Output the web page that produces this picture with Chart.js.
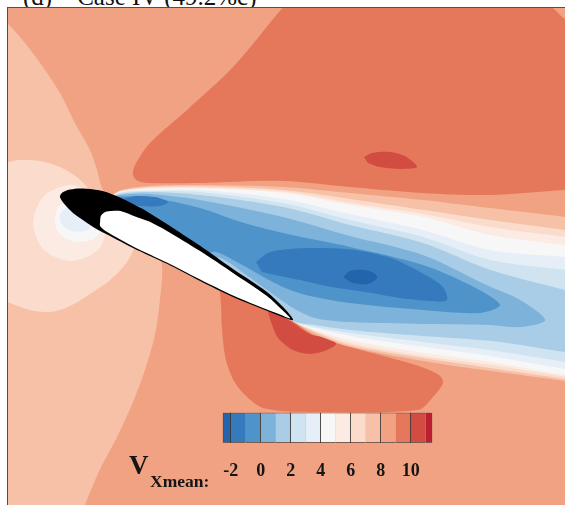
<!DOCTYPE html>
<html>
<head>
<meta charset="utf-8">
<script src="https://cdn.jsdelivr.net/npm/chart.js@4.4.1/dist/chart.umd.min.js"></script>
<style>
  html, body { margin: 0; padding: 0; width: 565px; height: 505px; overflow: hidden; background: #ffffff; }
  body { position: relative; font-family: "Liberation Serif", "Times New Roman", serif; color: #111; }
  #frame { position: absolute; left: 7px; top: 7px; width: 558px; height: 498px; box-sizing: border-box;
           border-left: 1px solid #6e4636; border-top: 1px solid #6e4636; }
  #field { position: absolute; left: 8px; top: 8px; }
  #bar { position: absolute; left: 200px; top: 403px; }
  #title { position: absolute; left: 23px; top: -16px; font-size: 25px; line-height: 25px; white-space: pre; color: #111; }
  #vmain { position: absolute; left: 129px; top: 452px; font-size: 27px; line-height: 27px; font-weight: bold; color: #151515; }
  #vsub { position: absolute; left: 150px; top: 473px; font-size: 17.5px; line-height: 17px; font-weight: bold; color: #151515; }
</style>
</head>
<body>
<div id="title">(d)    Case IV (49.2%c)</div>
<div id="frame"></div>
<canvas id="field" width="557" height="497"></canvas>
<canvas id="bar" width="260" height="90"></canvas>
<div id="vmain">V</div>
<div id="vsub">Xmean:</div>
<script>
// Contour levels of the mean streamwise velocity and their fill colours
const levelBounds = [-2.53, -2, -1, 0, 1, 2, 3, 4, 5, 6, 7, 8, 9, 10, 11, 11.44];
const levelColors = ['#2265ad', '#347abd', '#4f93cb', '#7db3da', '#a9cde6', '#cfe3f1', '#e6eff7',
                     '#f8f7f8', '#fcebe2', '#fbdccc', '#f7c1a8', '#f1a283', '#e5785a', '#d24c42', '#bd1f32'];
const colorbarTicks = [-2, 0, 2, 4, 6, 8, 10];

// Field extent in percent chord, leading edge at the origin
const xRange = [-20.7, 192.7];
const yRange = [-118.8, 71.65];

// Iso-regions [x/c %, y/c %]
const fieldBase = [[-25, 75], [197, 75], [197, -122], [-25, -122]];
const suctionPeak = [[87.4, 74.5], [84.7, 72.0], [65.5, 49.0], [47.9, 32.6], [33.7, 19.9], [28.0, 11.5], [27.2, 7.7],
  [29.1, 5.4], [33.7, 4.6], [52.9, 4.6], [84.7, 5.4], [110.3, 3.1], [138.3, 0.8], [164.0, 0], [192.7, 1.9],
  [198.5, 2.0], [198.5, 61.3], [190.8, 69.0], [185.8, 73.9]];
const upstreamLobe = [[-25, 69.0], [-21.1, 65.9], [-16.1, 60.5], [-8.4, 50.6], [-0.8, 39.1], [5.7, 26.1], [10.7, 17.2],
  [13.4, 9.6], [15.3, 2.7], [18.4, -1.9], [26.1, -13.4], [35.6, -21.8], [38.3, -26.8], [37.5, -40.2], [35.6, -53.6],
  [31.8, -67.0], [27.2, -79.3], [21.1, -92.7], [14.6, -105.0], [8.8, -118.8], [6.9, -124.5], [-25, -124.5]];
const stagnationOuter = [[-25, 12.6], [-21.1, 12.6], [-16.1, 13.4], [-8.4, 13.0], [-0.8, 10.7], [6.1, 6.5], [11.5, 1.1],
  [18.4, -5.7], [24.1, -13.4], [28.0, -18.0], [24.9, -25.7], [18.4, -32.6], [11.9, -37.2], [3.1, -42.5], [-4.6, -44.8],
  [-12.3, -44.1], [-21.1, -41.0], [-25, -40.2]];
const stagnationMid = [[18.0, -10.7], [13.8, -21.1], [3.4, -25.3], [-6.9, -21.1], [-11.1, -10.7], [-6.9, -0.4], [3.4, 3.8], [13.8, -0.4]];
const stagnationInner = [[12.6, -5.7], [15.7, -12.6], [11.5, -17.2], [3.8, -17.6], [-1.5, -14.2], [-2.7, -8.8], [-0.8, -3.8], [5.0, -1.5]];
const stagnationCore = [[6.9, -5.0], [11.5, -9.6], [10.0, -13.4], [3.8, -13.8], [0, -11.5], [-0.8, -7.7], [1.5, -5.0]];
const upperJet = [[115.7, 14.6], [118.8, 16.1], [125.7, 16.5], [131.4, 14.9], [136.0, 10.7], [129.5, 10.0], [121.8, 10.7], [117.2, 12.3]];
const pressureSide = [[59.8, -33.3], [88.1, -48.3], [96.9, -54.0], [116.1, -59.8], [135.2, -65.1], [144.4, -69.0], [146.0, -72.0],
  [141.8, -77.8], [136.4, -82.4], [91.2, -83.1], [77.0, -81.6], [71.3, -77.8], [66.3, -72.0], [62.8, -63.2], [61.3, -51.7],
  [60.9, -42.1], [60.5, -37.2]];
const trailingJet = [[87.4, -48.3], [95.0, -53.3], [102.7, -55.2], [105.0, -57.1], [101.5, -59.4], [95.0, -60.9], [88.5, -59.4],
  [82.8, -54.8], [80.5, -49.8], [78.2, -42.5]];

const wake8 = [[17.6, -1.5], [22.2, 1.7], [33.7, 3.4], [52.9, 3.8], [84.7, 3.1], [110.3, 0.8], [138.3, -1.9], [164.0, -5.0], [192.7, -8.4],
  [198.5, -9.2], [198.5, -72.0], [192.7, -71.3], [164.0, -67.4], [138.3, -63.6], [110.3, -58.2], [96.9, -53.3], [88.5, -48.3],
  [79.7, -41.0], [52.9, -25.7], [29.9, -12.6], [17.6, -3.8]];
const wake7 = [[17.6, -1.5], [22.2, 1.5], [33.7, 3.1], [52.9, 3.3], [84.7, 1.9], [110.3, -1.5], [138.3, -5.7], [164.0, -9.6], [192.7, -13.4],
  [198.5, -14.2], [198.5, -71.3], [192.7, -70.5], [164.0, -66.3], [138.3, -62.5], [110.3, -57.5], [96.9, -52.5], [88.5, -48.3],
  [79.7, -41.0], [52.9, -25.7], [29.9, -12.6], [17.6, -3.8]];
const wake6 = [[17.6, -1.5], [22.2, 1.3], [33.7, 2.7], [52.9, 2.9], [84.7, 1.3], [110.3, -3.1], [138.3, -7.3], [164.0, -12.3], [192.7, -16.1],
  [198.5, -16.9], [198.5, -70.5], [192.7, -69.7], [164.0, -65.1], [138.3, -61.7], [110.3, -56.7], [96.9, -52.1], [88.5, -48.3],
  [79.7, -41.0], [52.9, -25.7], [29.9, -12.6], [17.6, -3.8]];
const wake5 = [[17.6, -1.5], [22.2, 1.15], [33.7, 2.3], [52.9, 2.5], [84.7, 0.8], [110.3, -3.8], [138.3, -8.4], [164.0, -15.3], [192.7, -19.2],
  [198.5, -19.9], [198.5, -69.7], [192.7, -69.0], [164.0, -64.0], [138.3, -60.5], [110.3, -55.6], [96.9, -51.7], [88.5, -48.3],
  [79.7, -41.0], [52.9, -25.7], [29.9, -12.6], [17.6, -3.8]];
const wake4 = [[17.6, -1.5], [22.2, 1.0], [33.7, 1.9], [52.9, 1.9], [84.7, -1.5], [110.3, -7.3], [138.3, -13.4], [164.0, -21.1], [192.7, -23.8],
  [198.5, -24.5], [198.5, -67.4], [192.7, -66.7], [164.0, -61.7], [138.3, -58.2], [110.3, -54.0], [96.9, -51.0], [88.5, -48.3],
  [79.7, -41.0], [52.9, -25.7], [29.9, -12.6], [17.6, -3.8]];
const wake3 = [[17.6, -1.5], [22.2, 0.8], [33.7, 1.5], [52.9, 1.15], [84.7, -3.1], [110.3, -9.6], [138.3, -16.1], [164.0, -24.9], [192.7, -28.7],
  [198.5, -29.5], [198.5, -64.8], [192.7, -64.0], [164.0, -59.4], [138.3, -56.3], [110.3, -52.9], [96.9, -50.6], [88.5, -48.3],
  [79.7, -41.0], [52.9, -25.7], [29.9, -12.6], [17.6, -3.8]];
const wake2 = [[17.6, -1.5], [22.2, 0.4], [33.7, 1.15], [52.9, 0], [84.7, -4.6], [110.3, -11.5], [138.3, -18.4], [164.0, -28.7], [192.7, -36.4],
  [198.5, -37.5], [198.5, -60.9], [192.7, -60.2], [164.0, -55.9], [138.3, -54.0], [110.3, -51.7], [96.9, -49.8], [88.5, -48.3],
  [79.7, -41.0], [52.9, -25.7], [29.9, -12.6], [17.6, -3.8]];
const wake1 = [[17.6, -1.5], [22.2, 0], [33.7, 0.4], [52.9, -1.9], [84.7, -8.4], [110.3, -15.7], [138.3, -23.0], [164.0, -35.2], [175.5, -40.2],
  [185.1, -47.9], [175.5, -50.6], [164.0, -49.8], [138.3, -49.4], [110.3, -48.7], [96.9, -47.1], [88.5, -43.3], [79.7, -37.2],
  [70.1, -30.3], [60.5, -24.1], [52.9, -24.5], [29.9, -12.6], [17.6, -3.8]];
const wake0 = [[17.6, -1.5], [22.2, -0.6], [33.7, -1.0], [52.9, -5.0], [68.2, -10.3], [84.7, -14.6], [110.3, -19.9], [138.3, -26.8],
  [156.3, -34.5], [167.8, -42.1], [160.2, -45.2], [138.3, -44.1], [110.3, -41.4], [96.9, -39.1], [87.4, -36.4], [77.8, -31.8],
  [68.2, -26.4], [58.6, -21.8], [52.9, -23.4], [29.9, -12.6], [17.6, -3.8]];
const leadingVortex = [[23.4, -1.5], [28.0, -0.4], [35.6, -0.8], [40.6, -2.7], [37.5, -4.2], [29.9, -4.2], [24.1, -3.4]];
const recirculation = [[74.3, -25.7], [78.9, -22.2], [87.4, -20.7], [98.9, -20.3], [112.3, -21.1], [125.7, -24.1], [137.2, -29.5],
  [145.6, -34.9], [147.5, -40.2], [141.0, -40.6], [129.5, -39.5], [118.0, -37.5], [102.7, -35.2], [91.2, -32.6], [83.5, -31.0], [76.6, -29.5]];
const recirculationCore = [[107.7, -31.4], [110.3, -29.1], [114.9, -28.7], [119.5, -29.9], [120.7, -31.8], [117.2, -34.1], [111.1, -33.7]];

// Airfoil section and its inner highlight
const airfoilOutline = [[40.2, -11.1], [52.9, -19.5], [65.5, -28.4], [78.5, -37.2], [85.4, -43.7], [88.5, -47.9], [83.5, -46.4],
  [78.5, -44.4], [65.5, -39.1], [52.9, -33.0], [40.2, -26.4], [27.2, -20.3], [18.4, -15.7], [14.6, -13.8], [9.6, -10.7],
  [4.2, -6.9], [0.8, -3.4], [-0.8, -0.8], [-0.4, 0.4], [0.8, 1.3], [3.1, 2.1], [6.9, 2.5], [10.7, 2.3], [14.6, 1.7],
  [18.4, 0.6], [23.4, -1.5], [31.0, -5.4]];
const airfoilInner = [[33.7, -10.3], [40.2, -13.8], [52.9, -21.5], [65.5, -29.9], [78.5, -38.7], [84.7, -44.4], [87.4, -47.3],
  [83.5, -45.8], [78.5, -43.9], [65.5, -38.5], [52.9, -32.4], [40.2, -25.9], [27.2, -19.7], [19.2, -15.3], [16.1, -13.4],
  [14.6, -11.9], [14.6, -10.3], [14.9, -8.0], [16.5, -6.5], [19.2, -6.1], [23.0, -6.3], [28.0, -8.2]];

// Drawing stack, bottom first: region and contour band index
const layers = [
  { region: fieldBase, band: 11, tension: 0 },
  { region: suctionPeak, band: 12 },
  { region: upstreamLobe, band: 10 },
  { region: stagnationOuter, band: 9 },
  { region: stagnationMid, band: 8 },
  { region: stagnationInner, band: 7 },
  { region: stagnationCore, band: 6 },
  { region: upperJet, band: 13 },
  { region: pressureSide, band: 12 },
  { region: trailingJet, band: 13 },
  { region: wake8, band: 10 },
  { region: wake7, band: 9 },
  { region: wake6, band: 8 },
  { region: wake5, band: 7 },
  { region: wake4, band: 6 },
  { region: wake3, band: 5 },
  { region: wake2, band: 4 },
  { region: wake1, band: 3 },
  { region: wake0, band: 2 },
  { region: leadingVortex, band: 1 },
  { region: recirculation, band: 1 },
  { region: recirculationCore, band: 0 },
  { region: airfoilOutline, color: '#000000' },
  { region: airfoilInner, color: '#ffffff' }
];

const toPoints = arr => arr.map(p => ({ x: p[0], y: p[1] }));

new Chart(document.getElementById('field'), {
  type: 'scatter',
  data: {
    datasets: layers.map((l, i) => ({
      data: toPoints(l.region),
      showLine: true,
      fill: 'shape',
      backgroundColor: l.color || levelColors[l.band],
      borderWidth: 0,
      pointRadius: 0,
      tension: l.tension === undefined ? 0.3 : l.tension,
      order: layers.length - i
    }))
  },
  options: {
    responsive: false,
    animation: false,
    events: [],
    layout: { padding: 0 },
    elements: { line: { capBezierPoints: false }, point: { radius: 0 } },
    plugins: { legend: { display: false }, tooltip: { enabled: false } },
    scales: {
      x: { type: 'linear', min: xRange[0], max: xRange[1], display: false },
      y: { type: 'linear', min: yRange[0], max: yRange[1], display: false }
    }
  }
});

// Colour bar: one floating bar per contour band, outlined, with dividers at the labelled levels
const edge = 'rgba(45,45,45,0.8)';
const lastBand = levelColors.length - 1;
new Chart(document.getElementById('bar'), {
  type: 'bar',
  data: {
    labels: ['VXmean'],
    datasets: levelColors.map((c, i) => ({
      data: [[levelBounds[i], levelBounds[i + 1]]],
      backgroundColor: c,
      borderColor: edge,
      borderWidth: { top: 1, bottom: 1, left: i === 0 ? 1 : 0, right: i === lastBand ? 1 : 0 },
      borderSkipped: false,
      barPercentage: 1,
      categoryPercentage: 1,
      grouped: false
    }))
  },
  options: {
    indexAxis: 'y',
    responsive: false,
    animation: false,
    events: [],
    layout: { padding: { left: 22.7, right: 27.7, top: 9.7, bottom: 0 } },
    plugins: { legend: { display: false }, tooltip: { enabled: false } },
    scales: {
      x: {
        type: 'linear',
        min: levelBounds[0],
        max: levelBounds[levelBounds.length - 1],
        afterBuildTicks: s => { s.ticks = colorbarTicks.map(v => ({ value: v })); },
        afterFit: s => { s.height = 50.3; },
        grid: { color: edge, lineWidth: 1, drawTicks: false, z: 1 },
        border: { display: false },
        ticks: { color: '#151515', padding: 18, maxRotation: 0, autoSkip: false,
                 font: { family: 'Liberation Serif', size: 18, weight: 'bold' } }
      },
      y: { display: false }
    }
  }
});
</script>
</body>
</html>
